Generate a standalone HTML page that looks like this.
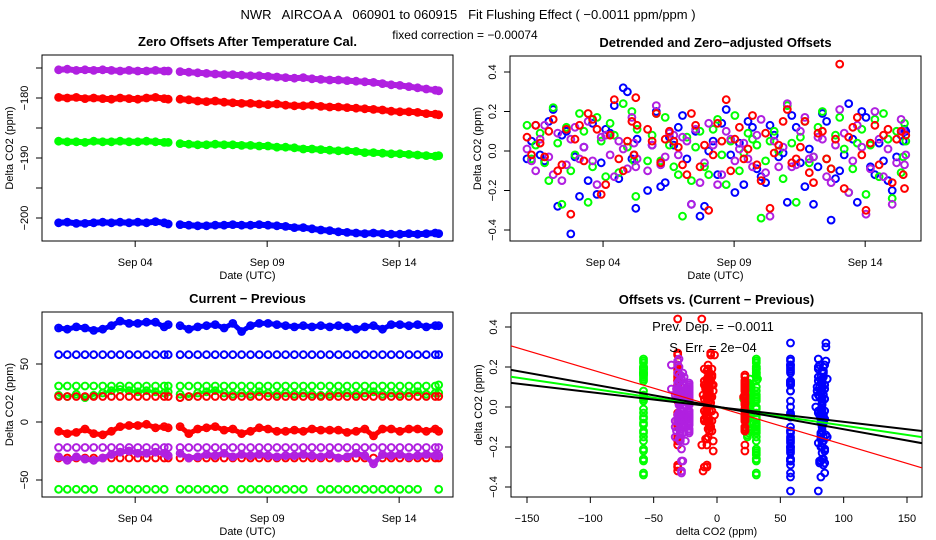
<!DOCTYPE html>
<html><head><meta charset="utf-8"><style>
html,body{margin:0;padding:0;background:#fff;}
svg{display:block;font-family:"Liberation Sans",sans-serif;}
</style></head><body>
<svg id="chart" width="936" height="540" viewBox="0 0 936 540" xmlns="http://www.w3.org/2000/svg">
<rect x="0" y="0" width="936" height="540" fill="#fff"/>
<text x="468" y="19" font-size="13" text-anchor="middle" xml:space="preserve">NWR   AIRCOA A   060901 to 060915   Fit Flushing Effect ( −0.0011 ppm/ppm )</text>
<text x="465" y="39" font-size="12" text-anchor="middle">fixed correction = −0.00074</text>
</svg>
<script>
// time grids (days since Sep 01 00:00 UTC)
const times = [0.1,0.43,0.77,1.1,1.43,1.77,2.1,2.43,2.77,3.1,3.43,3.77,4.1,4.25,
4.7,5.03,5.37,5.7,6.03,6.37,6.7,7.03,7.37,7.7,8.03,8.37,8.7,9.03,9.37,9.7,10.03,10.37,10.7,11.03,11.37,11.7,12.03,12.37,12.7,13.03,13.37,13.7,14.03,14.37,14.5];
const times2 = [0.27,0.6,0.93,1.27,1.6,1.93,2.27,2.6,2.93,3.27,3.6,3.93,4.18,4.3,
4.87,5.2,5.53,5.87,6.2,6.53,6.87,7.2,7.53,7.87,8.2,8.53,8.87,9.2,9.53,9.87,10.2,10.53,10.87,11.2,11.53,11.87,12.2,12.53,12.87,13.2,13.53,13.87,14.2,14.45,14.55];
const dateTickDays = [3,8,13];
const dateTickLabels = ["Sep 04","Sep 09","Sep 14"];

// Panel 1: zero offsets
const zeroPurple = [-175.3,-175.2,-175.4,-175.3,-175.4,-175.3,-175.4,-175.5,-175.4,-175.5,-175.5,-175.4,-175.5,-175.5,
-175.6,-175.7,-175.8,-175.9,-176.0,-176.1,-176.1,-176.2,-176.3,-176.3,-176.4,-176.5,-176.6,-176.7,-176.6,-176.8,-176.9,-177.0,-177.0,-177.1,-177.2,-177.3,-177.4,-177.6,-177.8,-177.9,-178.1,-178.3,-178.5,-178.7,-178.8];
const zeroRed = [-179.9,-180.0,-179.9,-180.1,-180.0,-180.1,-180.2,-180.0,-180.1,-180.2,-180.0,-179.9,-180.1,-180.2,
-180.2,-180.3,-180.5,-180.6,-180.5,-180.7,-180.8,-180.9,-180.9,-181.0,-181.1,-181.0,-181.2,-181.3,-181.3,-181.2,-181.4,-181.5,-181.5,-181.6,-181.7,-181.8,-181.9,-182.0,-182.2,-182.3,-182.3,-182.4,-182.6,-182.7,-182.8];
const zeroGreen = [-187.2,-187.3,-187.3,-187.4,-187.2,-187.3,-187.3,-187.2,-187.3,-187.3,-187.2,-187.3,-187.4,-187.4,
-187.6,-187.7,-187.8,-187.8,-187.7,-187.8,-187.8,-187.9,-187.9,-188.0,-188.0,-188.2,-188.2,-188.3,-188.5,-188.5,-188.6,-188.7,-188.8,-188.8,-188.9,-189.1,-189.1,-189.2,-189.3,-189.3,-189.4,-189.5,-189.6,-189.7,-189.6];
const zeroBlue = [-200.8,-200.7,-200.9,-200.9,-200.8,-200.7,-200.8,-200.7,-200.8,-200.7,-200.8,-200.6,-200.8,-201.0,
-201.1,-201.2,-201.3,-201.3,-201.2,-201.2,-201.1,-201.2,-201.2,-201.1,-201.2,-201.3,-201.4,-201.6,-201.6,-201.8,-202.0,-202.1,-202.3,-202.4,-202.5,-202.6,-202.5,-202.6,-202.7,-202.7,-202.6,-202.7,-202.6,-202.5,-202.6];
const zeroTicks = [-175,-180,-185,-190,-195,-200];
const zeroTickLabels = ["","-180","","-190","","-200"];

// Panel 2: detrended offsets
const detBlue = [-0.04,0.13,-0.05,0.21,0.08,-0.42,-0.23,-0.15,-0.22,0.11,0.23,0.32,-0.04,-0.29,
-0.20,0.20,-0.16,0.03,0.18,-0.27,-0.33,0.00,-0.12,0.21,-0.21,-0.17,0.12,-0.13,0.13,-0.03,-0.26,0.12,-0.18,-0.27,0.19,-0.35,-0.10,0.24,-0.26,0.17,-0.12,-0.05,-0.20,0.08,0.11];
const detRed = [0.07,0.13,-0.03,0.16,-0.07,-0.32,0.13,0.19,0.11,-0.17,0.26,-0.10,0.15,0.27,
0.11,0.19,0.06,0.05,-0.07,0.19,-0.08,-0.30,0.14,0.26,0.06,-0.04,0.18,-0.15,-0.29,0.03,0.21,-0.04,0.15,-0.16,0.10,-0.09,0.44,0.07,0.17,-0.30,0.13,0.08,-0.16,0.10,-0.19];
const detGreen = [0.13,0.03,-0.06,0.22,-0.27,-0.10,0.19,-0.26,0.17,-0.13,0.08,0.24,0.20,-0.23,
-0.05,0.19,0.17,-0.08,-0.33,-0.15,0.10,-0.12,0.16,-0.17,0.18,-0.01,0.06,-0.34,0.05,0.00,0.23,-0.26,0.15,-0.03,0.20,-0.09,0.17,-0.21,0.04,-0.22,0.16,0.19,-0.24,-0.11,0.14];
const detPurple = [0.01,-0.10,0.13,-0.12,-0.15,0.06,-0.04,0.15,-0.17,0.08,-0.13,0.01,0.17,-0.08,
-0.10,0.23,-0.03,0.08,0.07,-0.27,-0.16,0.14,-0.17,0.10,-0.05,0.04,-0.08,0.16,-0.33,-0.08,0.24,-0.07,0.17,-0.03,0.06,-0.16,0.21,-0.21,0.13,-0.32,0.20,-0.13,-0.27,0.16,-0.07];
const detBlue2 = [0.05,-0.02,0.15,-0.28,0.10,-0.03,0.02,0.14,-0.06,0.09,-0.14,0.30,-0.02,0.06,
0.03,-0.18,0.07,0.12,-0.04,0.10,-0.28,0.05,0.14,-0.02,0.04,0.15,-0.09,-0.16,0.08,-0.01,0.18,-0.06,0.01,-0.08,0.15,-0.14,-0.02,0.06,0.20,-0.08,0.04,-0.15,-0.03,0.05,0.10];
const detRed2 = [-0.02,0.04,0.10,-0.10,0.11,0.06,-0.05,0.16,-0.22,0.08,-0.04,0.05,-0.02,0.13,
0.05,-0.06,0.10,0.02,-0.12,0.13,0.03,-0.02,0.05,-0.10,0.12,0.01,-0.07,0.09,-0.01,0.15,-0.06,0.02,-0.11,0.09,-0.04,0.06,-0.19,0.12,-0.02,0.04,-0.07,0.11,0.06,-0.12,0.08];
const detGreen2 = [-0.04,0.09,-0.15,0.04,0.12,-0.02,0.10,-0.08,0.05,0.14,-0.11,0.02,-0.05,0.11,
0.08,-0.05,0.03,-0.12,0.07,0.02,-0.08,0.11,-0.02,0.05,-0.10,0.09,0.03,-0.05,0.10,-0.14,0.04,0.07,-0.06,0.12,-0.04,0.08,0.01,-0.09,0.11,0.03,-0.13,0.06,0.10,-0.03,0.05];
const detPurple2 = [-0.05,0.06,-0.03,0.09,-0.07,0.12,0.02,-0.05,0.07,-0.02,0.05,-0.09,0.04,-0.04,
0.03,-0.07,0.09,-0.02,0.05,0.11,-0.06,0.03,-0.12,0.06,0.01,-0.04,0.08,-0.11,0.05,0.02,-0.08,0.10,-0.04,0.07,-0.13,0.03,0.09,-0.05,0.02,-0.09,0.06,0.01,-0.06,0.10,-0.02];
const detTicks = [-0.4,-0.2,0,0.2,0.4];
const detTickLabels = ["-0.4","-0.2","0.0","0.2","0.4"];

// Panel 3: current - previous
const cpBlueHigh = [81,80,82,81,79,80,83,87,85,85,86,86,82,84,
83,80,82,83,84,81,85,78,83,85,85,84,83,82,83,82,83,82,83,82,80,82,83,80,84,84,83,84,82,83,83];
const cpBlue58 = [58,58,58,58,58,58,58,58,58,58,58,58,58,58, 58,58,58,58,58,58,58,58,58,58,58,58,58,58,58,58,58,58,58,58,58,58,58,58,58,58,58,58,58,58,58];
const cpGreen31 = [31,31,31,31,31,31,31,31,31,31,31,31,31,31, 31,31,31,31,31,31,31,31,31,31,31,31,31,31,31,31,31,31,31,31,31,31,31,31,31,31,31,31,31,31,32];
const cpGreenBand = [23,22,24,21,23,25,27,28,27,26,27,26,25,26, 24,22,25,26,27,25,24,25,24,26,25,24,25,24,25,24,23,24,25,25,24,25,26,24,25,24,25,26,24,25,25];
const cpRed22 = [22,22,22,22,22,22,22,22,22,22,22,22,22,22, 21,22,22,22,22,22,22,22,22,22,22,22,22,22,22,22,22,22,22,22,22,22,22,22,22,22,22,22,22,22,22];
const cpRedBand = [-8,-10,-9,-6,-10,-11,-8,-4,-3,-3,-2,-5,-4,-5,
-4,-10,-6,-5,-4,-7,-6,-10,-8,-5,-6,-8,-8,-7,-8,-6,-7,-7,-7,-9,-8,-6,-12,-6,-6,-8,-6,-6,-8,-6,-8];
const cpPurpleBand = [-30,-33,-30,-32,-33,-31,-28,-26,-25,-27,-27,-26,-27,-29,
-27,-31,-30,-28,-29,-27,-30,-28,-29,-28,-29,-30,-29,-29,-28,-29,-30,-28,-31,-30,-27,-29,-36,-28,-29,-28,-30,-29,-28,-29,-29];
const cpRed31 = [-31,-31,-31,-31,-31,-31,-31,-31,-31,-31,-31,-31,-31,-31, -31,-31,-31,-31,-31,-31,-31,-31,-31,-31,-31,-31,-31,-31,-31,-31,-31,-31,-31,-31,-31,-31,-31,-31,-31,-31,-31,-31,-31,-31,-31];
const cpPurple22 = [-22,-22,-22,-22,-22,-22,-22,-22,-22,-22,-22,-22,-22,-22, -22,-22,-22,-22,-22,-22,-22,-22,-22,-22,-22,-22,-22,-22,-22,-22,-22,-22,-22,-22,-22,-22,-22,-22,-22,-22,-22,-22,-22,-22,-22];
const cpGreen58 = [-58,-58,-58,-58,-58,null,-58,-58,-58,-58,-58,-58,-58,null, -58,-58,-58,-58,-58,-58,null,-58,-58,-58,-58,-58,-58,-58,-58,null,-58,-58,-58,-58,-58,-58,-58,-58,-58,-58,-58,-58,null,null,-58];
const cpTicks = [-50,0,50];
const cpTickLabels = ["-50","0","50"];

// Panel 4: regression lines
const fitNames = ["red-fit-line","green-fit-line","black-fit-line-1","black-fit-line-2"];
const fitSlopes = [-0.00188,-0.00093,-0.00113,-0.00074];
const fitIntercepts = [0,0,0.002,0];
const fitColors = ["#ff0000","#00ff00","#000000","#000000"];
const scatterXTicks = [-150,-100,-50,0,50,100,150];
const scatterXTickLabels = ["-150","-100","-50","0","50","100","150"];

const NS = "http://www.w3.org/2000/svg";
const svg = document.getElementById("chart");
function el(tag, attrs, parent){
  const e = document.createElementNS(NS, tag);
  for (const k in attrs) e.setAttribute(k, attrs[k]);
  (parent||svg).appendChild(e);
  return e;
}
function lin(d0,d1,r0,r1){ return v => r0 + (v-d0)/(d1-d0)*(r1-r0); }

const BLUE="#0000ff", RED="#ff0000", GREEN="#00ff00", PURPLE="#b020e0";

function panel(o){
  const g = el("g",{});
  
  
  const t = el("text",{x:(o.x0+o.x1)/2, y:o.y0-9, "font-size":13, "font-weight":"bold", "text-anchor":"middle"}, g);
  t.textContent = o.title;
  
  
  const box = el("rect",{x:o.x0, y:o.y0, width:o.x1-o.x0, height:o.y1-o.y0, fill:"none", stroke:"#000", "stroke-width":1}, g);
  
  
  o.xTicks.forEach((v,i)=>{
    const x = o.sx(v);
    const tk = el("line",{x1:x,x2:x,y1:o.y1,y2:o.y1+6,stroke:"#000"}, g);
    
    
    const tl = el("text",{x:x, y:o.y1+25, "font-size":11, "text-anchor":"middle"}, g);
    tl.textContent = o.xLabels[i].replace("-","−");
    
    
  });
  o.yTicks.forEach((v,i)=>{
    const y = o.sy(v);
    const tk = el("line",{x1:o.x0-6,x2:o.x0,y1:y,y2:y,stroke:"#000"}, g);
    
    
    if (o.yLabels[i]) {
      const tx = o.x0-14;
      const tl = el("text",{x:tx, y:y, "font-size":11, "text-anchor":"middle", transform:`rotate(-90 ${tx} ${y})`}, g);
      tl.textContent = o.yLabels[i].replace("-","−");
      
      
    }
  });
  const xt = el("text",{x:(o.x0+o.x1)/2, y:o.y1+38, "font-size":11, "text-anchor":"middle"}, g);
  xt.textContent = o.xTitle;
  
  
  const yx = o.x0-29, yy=(o.y0+o.y1)/2;
  const yt = el("text",{x:yx, y:yy, "font-size":11, "text-anchor":"middle", transform:`rotate(-90 ${yx} ${yy})`}, g);
  yt.textContent = o.yTitle;
  
  
  const clip = "clip-"+o.name;
  const cp = el("clipPath",{id:clip}, g);
  el("rect",{x:o.x0,y:o.y0,width:o.x1-o.x0,height:o.y1-o.y0}, cp);
  const pg = el("g",{"clip-path":`url(#${clip})`}, g);
  
  
  return pg;
}

function series(pg, xs, ys, sx, sy, color, name){
  const sg = el("g",{fill:"none", stroke:color, "stroke-width":2}, pg);
  
  
  const n = Math.min(xs.length, ys.length);
  for (let i=0;i<n;i++){
    if (xs[i]==null || ys[i]==null) continue;
    const c = el("circle",{cx:sx(xs[i]).toFixed(1), cy:sy(ys[i]).toFixed(1), r:3.4}, sg);
    
    
  }
}
// dense band: thick line through data, split at the data gap
function band(pg, xs, ys, sx, sy, color, name, w){
  const n = Math.min(xs.length, ys.length);
  let seg = [];
  const segs = [];
  for (let i=0;i<n;i++){
    if (i>0 && xs[i]-xs[i-1] > 0.4){ segs.push(seg); seg=[]; }
    seg.push(sx(xs[i]).toFixed(1)+","+sy(ys[i]).toFixed(1));
  }
  segs.push(seg);
  segs.forEach(s=>{
    const p = el("polyline",{points:s.join(" "), fill:"none", stroke:color, "stroke-width":w, "stroke-linejoin":"round", "stroke-linecap":"round"}, pg);
    
    
  });
  series(pg, xs, ys, sx, sy, color, name);
}

// Panel 1
{
  const sx = lin(-0.53, 15.04, 42, 453), sy = lin(-180, -200, 98, 218);
  const pg = panel({name:"zero-offsets-panel", title:"Zero Offsets After Temperature Cal.", x0:42,x1:453,y0:55,y1:241, sx, sy,
    xTicks:dateTickDays, xLabels:dateTickLabels, yTicks:zeroTicks, yLabels:zeroTickLabels, xTitle:"Date (UTC)", yTitle:"Delta CO2 (ppm)"});
  band(pg, times, zeroPurple, sx, sy, PURPLE, "zero-purple-series", 6);
  band(pg, times, zeroRed, sx, sy, RED, "zero-red-series", 6);
  band(pg, times, zeroGreen, sx, sy, GREEN, "zero-green-series", 6);
  band(pg, times, zeroBlue, sx, sy, BLUE, "zero-blue-series", 6);
}
// Panel 2
{
  const sx = lin(-0.55, 15.13, 510, 921), sy = lin(0, 0.4, 151, 72);
  const pg = panel({name:"detrended-panel", title:"Detrended and Zero\u2212adjusted Offsets", x0:510,x1:921,y0:56,y1:241, sx, sy,
    xTicks:dateTickDays, xLabels:dateTickLabels, yTicks:detTicks, yLabels:detTickLabels, xTitle:"Date (UTC)", yTitle:"Delta CO2 (ppm)"});
  series(pg, times, detBlue, sx, sy, BLUE, "detrended-blue-series");
  series(pg, times2, detBlue2, sx, sy, BLUE, "detrended-blue-series-2");
  series(pg, times, detGreen, sx, sy, GREEN, "detrended-green-series");
  series(pg, times2, detGreen2, sx, sy, GREEN, "detrended-green-series-2");
  series(pg, times, detPurple, sx, sy, PURPLE, "detrended-purple-series");
  series(pg, times2, detPurple2, sx, sy, PURPLE, "detrended-purple-series-2");
  series(pg, times, detRed, sx, sy, RED, "detrended-red-series");
  series(pg, times2, detRed2, sx, sy, RED, "detrended-red-series-2");
}
// Panel 3
{
  const sx = lin(-0.53, 15.04, 42, 453), sy = lin(0, 50, 422, 364);
  const pg = panel({name:"current-previous-panel", title:"Current \u2212 Previous", x0:42,x1:453,y0:312,y1:497, sx, sy,
    xTicks:dateTickDays, xLabels:dateTickLabels, yTicks:cpTicks, yLabels:cpTickLabels, xTitle:"Date (UTC)", yTitle:"Delta CO2 (ppm)"});
  band(pg, times, cpBlueHigh, sx, sy, BLUE, "cp-blue-high-series", 5);
  series(pg, times, cpBlue58, sx, sy, BLUE, "cp-blue-58-series");
  series(pg, times, cpGreen31, sx, sy, GREEN, "cp-green-31-series");
  band(pg, times, cpGreenBand, sx, sy, GREEN, "cp-green-band-series", 3);
  series(pg, times, cpRed22, sx, sy, RED, "cp-red-22-series");
  band(pg, times, cpRedBand, sx, sy, RED, "cp-red-band-series", 5);
  series(pg, times, cpRed31, sx, sy, RED, "cp-red-31-series");
  series(pg, times, cpPurple22, sx, sy, PURPLE, "cp-purple-22-series");
  band(pg, times, cpPurpleBand, sx, sy, PURPLE, "cp-purple-band-series", 5);
  series(pg, times, cpGreen58, sx, sy, GREEN, "cp-green-58-series");
}
// Panel 4
{
  const sx = lin(0, 150, 717, 907), sy = lin(0, 0.4, 407, 327);
  const pg = panel({name:"offsets-vs-cp-panel", title:"Offsets vs. (Current \u2212 Previous)", x0:511,x1:922,y0:313,y1:497, sx, sy,
    xTicks:scatterXTicks, xLabels:scatterXTickLabels, yTicks:detTicks, yLabels:detTickLabels, xTitle:"delta CO2 (ppm)", yTitle:"delta CO2 (ppm)"});
  series(pg, cpGreen58, detGreen, sx, sy, GREEN, "scatter-green-58");
  series(pg, cpGreen31, detGreen, sx, sy, GREEN, "scatter-green-31");
  series(pg, cpGreenBand, detGreen2, sx, sy, GREEN, "scatter-green-band");
  series(pg, cpRed31, detRed, sx, sy, RED, "scatter-red-31");
  series(pg, cpPurpleBand, detPurple, sx, sy, PURPLE, "scatter-purple-band");
  series(pg, cpPurpleBand, detPurple2, sx, sy, PURPLE, "scatter-purple-band-2");
  series(pg, cpPurple22, detPurple2, sx, sy, PURPLE, "scatter-purple-22");
  series(pg, cpRedBand, detRed, sx, sy, RED, "scatter-red-band");
  series(pg, cpRedBand, detRed2, sx, sy, RED, "scatter-red-band-2");
  series(pg, cpRed22, detRed2, sx, sy, RED, "scatter-red-22");
  series(pg, cpBlue58, detBlue, sx, sy, BLUE, "scatter-blue-58");
  series(pg, cpBlueHigh, detBlue, sx, sy, BLUE, "scatter-blue-high");
  series(pg, cpBlueHigh, detBlue2, sx, sy, BLUE, "scatter-blue-high-2");
  fitSlopes.forEach((m,i)=>{
    const xa=-170, xb=170;
    const ln = el("line",{x1:sx(xa),y1:sy(fitIntercepts[i]+m*xa),x2:sx(xb),y2:sy(fitIntercepts[i]+m*xb),stroke:fitColors[i],"stroke-width":i===0?1.2:2}, pg);
    
    
  });
  const a = el("text",{x:713, y:331, "font-size":13, "text-anchor":"middle"}, svg);
  a.textContent = "Prev. Dep. =  \u22120.0011";
  
  
  const b = el("text",{x:713, y:352, "font-size":13, "text-anchor":"middle"}, svg);
  b.textContent = "S. Err. =  2e\u221204";
  
  
}
</script>
</body></html>
